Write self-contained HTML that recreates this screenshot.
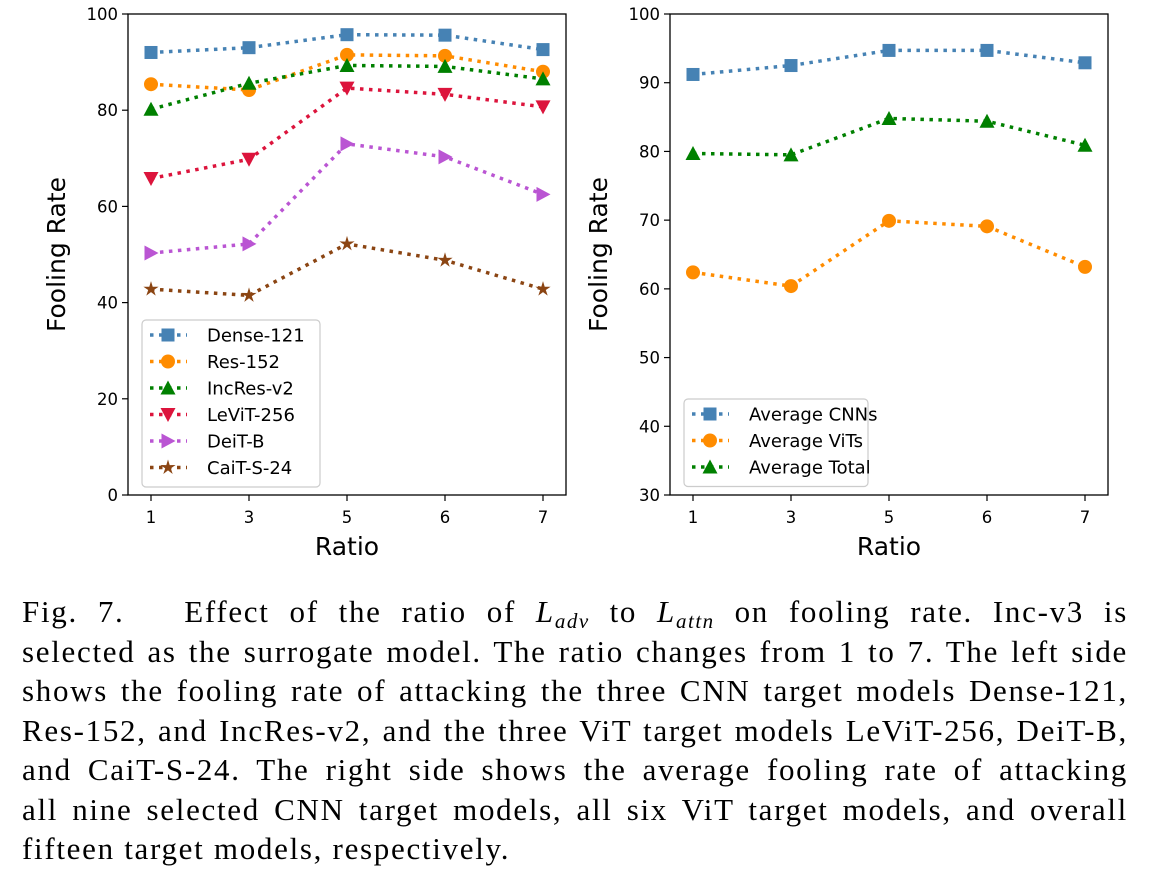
<!DOCTYPE html>
<html><head><meta charset="utf-8"><style>
body{margin:0;background:#fff;width:1154px;height:887px;overflow:hidden;position:relative}
svg text{font-family:"DejaVu Sans","Liberation Sans",sans-serif}
#cap{position:absolute;left:22px;top:592px;width:1106px;font-family:"Liberation Serif",serif;font-size:31px;line-height:39.5px;letter-spacing:1.7px;color:#000}
#cap div{height:39.5px;text-align:justify;text-align-last:justify;overflow:visible}
#cap sub{font-size:21px;line-height:0;vertical-align:-6px;letter-spacing:1.5px}
</style></head><body>
<svg id="chart" width="1154" height="590" style="position:absolute;left:0;top:0"></svg>
<div id="cap">
<div>Fig. 7.&nbsp;&nbsp; Effect of the ratio of <i>L<sub>adv</sub></i> to <i>L<sub>attn</sub></i> on fooling rate. Inc-v3 is</div>
<div>selected as the surrogate model. The ratio changes from 1 to 7. The left side</div>
<div>shows the fooling rate of attacking the three CNN target models Dense-121,</div>
<div>Res-152, and IncRes-v2, and the three ViT target models LeViT-256, DeiT-B,</div>
<div>and CaiT-S-24. The right side shows the average fooling rate of attacking</div>
<div>all nine selected CNN target models, all six ViT target models, and overall</div>
<div style="text-align-last:left">fifteen target models, respectively.</div>
</div>
<script>
const categories=["1","3","5","6","7"];
const dense=[92,93,95.7,95.6,92.6];
const res152=[85.4,84.2,91.5,91.3,88];
const incres=[80.2,85.6,89.3,89.1,86.5];
const levit=[65.8,69.8,84.6,83.3,80.7];
const deit=[50.3,52.2,73,70.3,62.5];
const cait=[42.8,41.5,52.2,48.8,42.8];
const avgCnn=[91.2,92.5,94.7,94.7,92.9];
const avgVit=[62.4,60.4,69.9,69.1,63.2];
const avgTotal=[79.7,79.5,84.8,84.4,80.9];
const leftTicks=[0,20,40,60,80,100];
const rightTicks=[30,40,50,60,70,80,90,100];

const NS="http://www.w3.org/2000/svg";
const svg=document.getElementById('chart');
function mk(tag,attrs,parent){const e=document.createElementNS(NS,tag);for(const k in attrs)e.setAttribute(k,attrs[k]);(parent||svg).appendChild(e);return e;}
function marker(g,type,x,y,c){
  const s=6.5;let e;
  if(type==='s')e=mk('rect',{x:x-s,y:y-s,width:2*s,height:2*s,fill:c},g);
  else if(type==='o')e=mk('circle',{cx:x,cy:y,r:s+0.5,fill:c},g);
  else if(type==='^')e=mk('polygon',{points:`${x},${y-s-1} ${x+s+1},${y+s} ${x-s-1},${y+s}`,fill:c},g);
  else if(type==='v')e=mk('polygon',{points:`${x},${y+s+1} ${x+s+1},${y-s} ${x-s-1},${y-s}`,fill:c},g);
  else if(type==='>')e=mk('polygon',{points:`${x+s+1},${y} ${x-s},${y-s-1} ${x-s},${y+s+1}`,fill:c},g);
  else {let p=[];for(let i=0;i<10;i++){const r=i%2?s*0.45:s+1.5,a=-Math.PI/2+i*Math.PI/5;p.push((x+r*Math.cos(a)).toFixed(1)+','+(y+r*Math.sin(a)).toFixed(1));}e=mk('polygon',{points:p.join(' '),fill:c},g);}
  return e;
}
function panel(name,L,R,ymin,ymax,ticks,series,legend){
  const T=14,B=495;
  const g=mk('g',{});
  
  
  const xs=i=>L+23+i*(R-L-46)/(categories.length-1);
  const ys=v=>B-(v-ymin)/(ymax-ymin)*(B-T);
  ticks.forEach(t=>{
    mk('line',{x1:L-6,x2:L,y1:ys(t),y2:ys(t),stroke:'#000','stroke-width':1.2},g);
    const tx=mk('text',{x:L-10,y:ys(t)+6,'text-anchor':'end','font-size':16.5},g);tx.textContent=t;
    
    
  });
  categories.forEach((c,i)=>{
    mk('line',{x1:xs(i),x2:xs(i),y1:B,y2:B+6,stroke:'#000','stroke-width':1.2},g);
    const tx=mk('text',{x:xs(i),y:B+28,'text-anchor':'middle','font-size':16.5},g);tx.textContent=c;
    
    
  });
  series.forEach(s=>{
    const sg=mk('g',{},g);
    
    
    mk('polyline',{points:s.d.map((v,i)=>xs(i)+','+ys(v)).join(' '),fill:'none',stroke:s.c,'stroke-width':3.5,'stroke-dasharray':'3.5 5.5'},sg);
    s.d.forEach((v,i)=>marker(sg,s.m,xs(i),ys(v),s.c));
  });
  mk('rect',{x:L,y:T,width:R-L,height:B-T,fill:'none',stroke:'#000','stroke-width':1.3},g);
  const xl=mk('text',{x:(L+R)/2,y:555,'text-anchor':'middle','font-size':25},g);xl.textContent='Ratio';
  
  
  const yl=mk('text',{x:0,y:0,'text-anchor':'middle','font-size':25,transform:`translate(${L-63},${(T+B)/2}) rotate(-90)`},g);yl.textContent='Fooling Rate';
  
  
  const lg=mk('g',{},g);
  
  
  mk('rect',{x:legend.x,y:legend.y,width:legend.w,height:series.length*26.5+8,rx:4,fill:'#fff',stroke:'#ccc','stroke-width':1.2},lg);
  series.forEach((s,i)=>{
    const yy=legend.y+15+i*26.5;
    const eg=mk('g',{},lg);
    
    
    mk('line',{x1:legend.x+8,x2:legend.x+45,y1:yy,y2:yy,stroke:s.c,'stroke-width':3.5,'stroke-dasharray':'3.5 5.5'},eg);
    marker(eg,s.m,legend.x+26,yy,s.c);
    const t=mk('text',{x:legend.x+65,y:yy+6.5,'font-size':18},eg);t.textContent=s.n;
  });
}
panel('left-chart',128,566,0,100,leftTicks,[
 {n:'Dense-121',d:dense,c:'#4682b4',m:'s'},
 {n:'Res-152',d:res152,c:'#ff8c00',m:'o'},
 {n:'IncRes-v2',d:incres,c:'#008000',m:'^'},
 {n:'LeViT-256',d:levit,c:'#dc143c',m:'v'},
 {n:'DeiT-B',d:deit,c:'#ba55d3',m:'>'},
 {n:'CaiT-S-24',d:cait,c:'#8b4513',m:'*'}],{x:142,y:320,w:178});
panel('right-chart',670,1108,30,100,rightTicks,[
 {n:'Average CNNs',d:avgCnn,c:'#4682b4',m:'s'},
 {n:'Average ViTs',d:avgVit,c:'#ff8c00',m:'o'},
 {n:'Average Total',d:avgTotal,c:'#008000',m:'^'}],{x:684,y:399,w:184});
</script>
</body></html>
